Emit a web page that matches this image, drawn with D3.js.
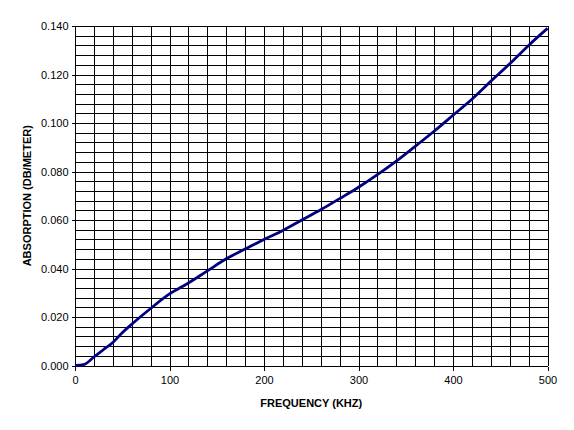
<!DOCTYPE html>
<html><head><meta charset="utf-8">
<script src="https://cdn.jsdelivr.net/npm/d3@7"></script>
<style>body{margin:0;background:#fff}svg{display:block}</style>
</head><body>
<svg id="c" width="574" height="430"></svg>
<script>
const frequency = [0,10,20,30,40,50,60,80,100,120,140,160,180,200,220,240,260,280,300,320,340,360,380,400,420,440,460,480,500];
const absorption = [0,0.0005,0.0035,0.0065,0.0095,0.0135,0.017,0.0235,0.0295,0.034,0.039,0.044,0.048,0.052,0.0557,0.060,0.0642,0.0688,0.0735,0.0787,0.0843,0.0904,0.0966,0.1032,0.1098,0.1172,0.1244,0.132,0.139];
const xTicks = [0,100,200,300,400,500];
const yTicks = [0,0.02,0.04,0.06,0.08,0.10,0.12,0.14];
const xTitle = "FREQUENCY (KHZ)";
const yTitle = "ABSORPTION (DB/METER)";

const svg = d3.select("#c");
const L = 75, R = 547.5, T = 26, B = 365.5;
const x = d3.scaleLinear().domain([0,500]).range([L,R]);
const y = d3.scaleLinear().domain([0,0.14]).range([B,T]);
const font = "'Liberation Sans', Arial, sans-serif";

// gridlines
const g = svg.append("g").attr("shape-rendering","crispEdges");
g.selectAll(".vg").data(d3.range(0,501,20)).join("line")
  .attr("x1",d=>Math.round(x(d))+0.5).attr("x2",d=>Math.round(x(d))+0.5)
  .attr("y1",T).attr("y2",B).attr("stroke","#000");
g.selectAll(".hg").data(d3.range(0,36).map(i=>i*0.004)).join("line")
  .attr("y1",d=>Math.round(y(d))+0.5).attr("y2",d=>Math.round(y(d))+0.5)
  .attr("x1",L).attr("x2",R).attr("stroke","#000");

// axes
const xa = svg.append("g").attr("transform",`translate(0,${Math.round(B)+0.5})`)
  .call(d3.axisBottom(x).tickValues(xTicks).tickSize(4).tickPadding(6).tickFormat(d3.format("d")));
const ya = svg.append("g").attr("transform",`translate(${Math.round(L)+0.5},0)`)
  .call(d3.axisLeft(y).tickValues(yTicks).tickSize(4).tickPadding(3).tickFormat(d3.format(".3f")));
[xa,ya].forEach(a=>{
  a.attr("shape-rendering","crispEdges");
  a.select(".domain").remove();
  a.selectAll("line").attr("stroke","#000");
  a.selectAll("text").attr("font-family",font).attr("font-size",11).attr("fill","#000");
});

// line
svg.append("path").datum(frequency.map((f,i)=>[f,absorption[i]]))
  .attr("fill","none").attr("stroke","#000080").attr("stroke-width",2.8)
  .attr("stroke-linejoin","round")
  .attr("d",d3.line().x(d=>x(d[0])).y(d=>y(d[1])).curve(d3.curveMonotoneX));

// titles
svg.append("text").attr("x",(L+R)/2).attr("y",407).attr("text-anchor","middle")
  .attr("font-family",font).attr("font-size",11).attr("font-weight","bold").text(xTitle);
svg.append("text").attr("transform",`translate(31,${(T+B)/2}) rotate(-90)`).attr("text-anchor","middle")
  .attr("font-family",font).attr("font-size",11).attr("font-weight","bold").text(yTitle);
</script>
</body></html>
